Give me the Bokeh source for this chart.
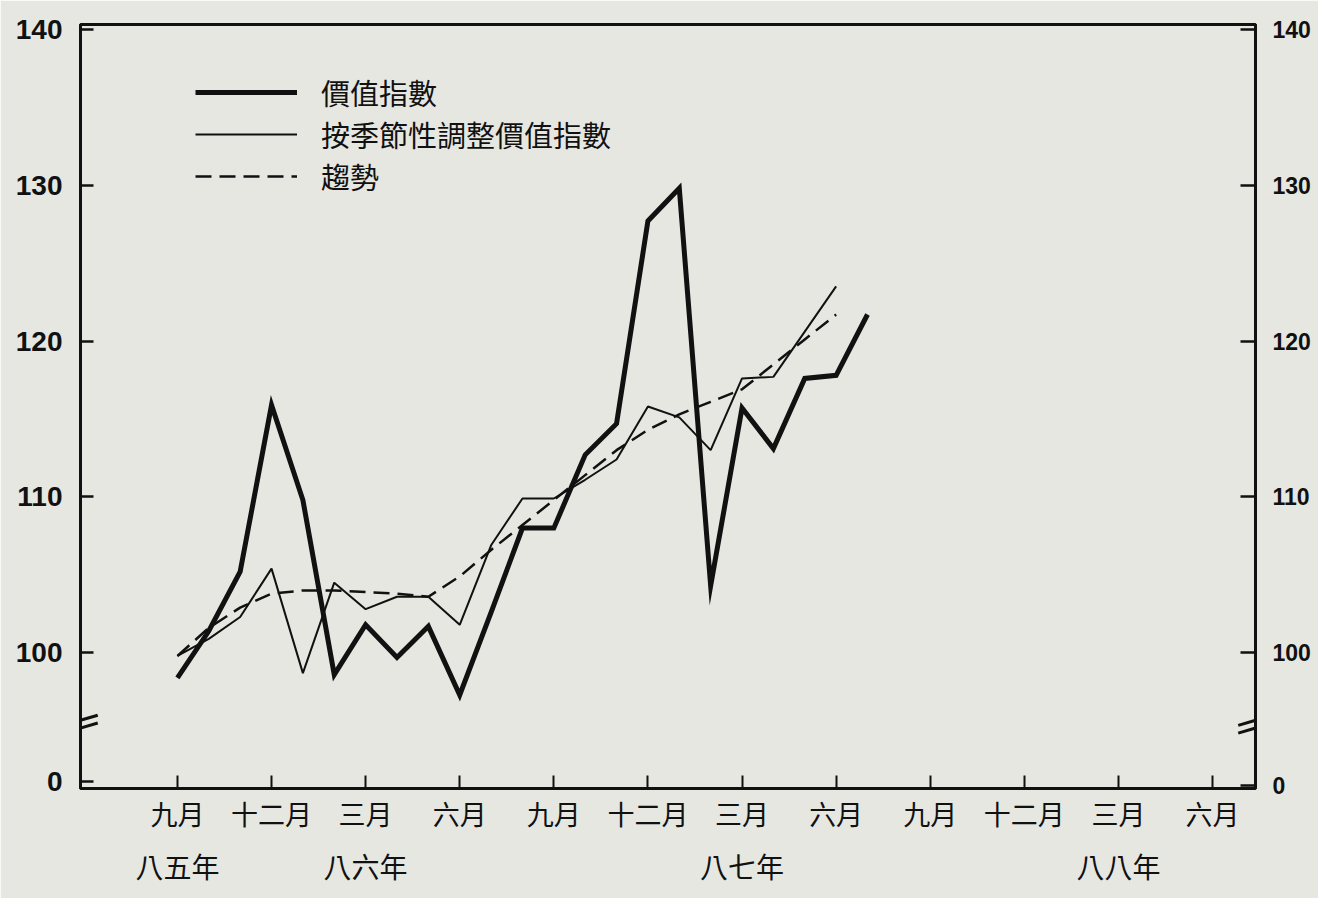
from bokeh.plotting import figure
from bokeh.models import FixedTicker, LinearAxis, Range1d, Legend, LegendItem, Arrow
from bokeh.embed import file_html
from bokeh.resources import INLINE

# Months counted from 九月 1985 (index 0)
MONTHS_VALUE = list(range(23))
VALUE_INDEX = [98.4, 101.4, 105.2, 115.9, 109.8, 98.6, 101.8, 99.7, 101.7, 97.3, 102.6,
               108.0, 108.0, 112.7, 114.7, 127.7, 129.8, 104.3, 115.7, 113.1, 117.6, 117.8, 121.7]
MONTHS_SA = list(range(22))
SEASONAL_ADJ = [99.8, 100.9, 102.3, 105.4, 98.7, 104.5, 102.8, 103.6, 103.6, 101.8, 106.9,
                109.9, 109.9, 111.1, 112.4, 115.8, 115.1, 113.0, 117.6, 117.7, 120.6, 123.5]
TREND = [99.8, 101.6, 102.9, 103.8, 104.0, 104.0, 103.9, 103.8, 103.6, 104.9, 106.6,
         108.2, 109.8, 111.4, 113.0, 114.3, 115.3, 116.1, 116.9, 118.5, 120.1, 121.7]

SERIES_NAMES = ["價值指數", "按季節性調整價值指數", "趨勢"]

MONTH_TICKS = [0, 3, 6, 9, 12, 15, 18, 21, 24, 27, 30, 33]
MONTH_LABELS = ["九月", "十二月", "三月", "六月", "九月", "十二月", "三月", "六月",
                "九月", "十二月", "三月", "六月"]
YEAR_TICKS = [0, 6, 18, 30]
YEAR_LABELS = ["八五年", "八六年", "八七年", "八八年"]

Y_TICKS = [100, 110, 120, 130, 140]
Y_BOTTOM = 91.3          # broken axis: bottom of the frame stands for 0
Y_ZERO_LABEL = Y_BOTTOM + 0.45
Y_BREAK = 95.2
X_LEFT, X_RIGHT = -3.09, 34.37

PAPER = "#e6e7e1"
INK = "#111111"
CJK = "Noto Sans CJK TC"

p = figure(width=1318, height=898, output_backend="svg", toolbar_location=None,
           x_range=Range1d(X_LEFT, X_RIGHT), y_range=Range1d(Y_BOTTOM, 140.3),
           min_border_left=80, min_border_right=63, min_border_top=24, min_border_bottom=110)
p.background_fill_color = PAPER
p.border_fill_color = PAPER
p.outline_line_color = INK
p.outline_line_width = 3
p.grid.visible = False

# left axis
ly = p.yaxis[0]
ly.ticker = FixedTicker(ticks=[Y_ZERO_LABEL] + Y_TICKS)
ly.major_label_overrides = {Y_ZERO_LABEL: "0"}
ly.major_tick_in = 13
ly.major_tick_out = 0
ly.minor_tick_line_color = None
ly.axis_line_width = 3
ly.major_tick_line_width = 2.5
ly.axis_line_color = INK
ly.major_tick_line_color = INK
ly.major_label_standoff = 18
ly.major_label_text_font = "Liberation Sans"
ly.major_label_text_font_style = "bold"
ly.major_label_text_font_size = "28px"
ly.major_label_text_color = INK

# right axis
ry = LinearAxis(ticker=FixedTicker(ticks=[Y_BOTTOM + 0.2] + Y_TICKS),
                major_label_overrides={Y_BOTTOM + 0.2: "0"})
ry.major_tick_in = 15
ry.major_tick_out = 0
ry.minor_tick_line_color = None
ry.axis_line_width = 3
ry.major_tick_line_width = 2.5
ry.axis_line_color = INK
ry.major_tick_line_color = INK
ry.major_label_standoff = 17
ry.major_label_text_font = "Liberation Sans"
ry.major_label_text_font_style = "bold"
ry.major_label_text_font_size = "23px"
ry.major_label_text_color = INK
p.add_layout(ry, "right")

# bottom axis (months)
bx = p.xaxis[0]
bx.ticker = FixedTicker(ticks=MONTH_TICKS)
bx.major_label_overrides = {t: l for t, l in zip(MONTH_TICKS, MONTH_LABELS)}
bx.major_tick_in = 13
bx.major_tick_out = 0
bx.minor_tick_line_color = None
bx.axis_line_width = 3
bx.major_tick_line_width = 2
bx.axis_line_color = INK
bx.major_tick_line_color = INK
bx.major_label_standoff = 5
bx.major_label_text_font = CJK
bx.major_label_text_font_size = "27px"
bx.major_label_text_color = INK

# second row (years)
yx = LinearAxis(ticker=FixedTicker(ticks=YEAR_TICKS),
                major_label_overrides={t: l for t, l in zip(YEAR_TICKS, YEAR_LABELS)})
yx.axis_line_color = None
yx.major_tick_line_color = None
yx.minor_tick_line_color = None
yx.major_tick_in = 0
yx.major_tick_out = 0
yx.major_label_standoff = 10
yx.major_label_text_font = CJK
yx.major_label_text_font_size = "28px"
yx.major_label_text_color = INK
p.add_layout(yx, "below")

# series
r1 = p.line(MONTHS_VALUE, VALUE_INDEX, line_color=INK, line_width=5, line_join="miter")
r2 = p.line(MONTHS_SA, SEASONAL_ADJ, line_color=INK, line_width=2)
r3 = p.line(MONTHS_SA, TREND, line_color=INK, line_width=2.5, line_dash="16 8")

legend = Legend(items=[LegendItem(label=SERIES_NAMES[0], renderers=[r1]),
                       LegendItem(label=SERIES_NAMES[1], renderers=[r2]),
                       LegendItem(label=SERIES_NAMES[2], renderers=[r3])],
                location=(115, 591))
legend.glyph_width = 102
legend.glyph_height = 30
legend.label_height = 30
legend.spacing = -4
legend.label_standoff = 24
legend.padding = 0
legend.margin = 0
legend.border_line_color = None
legend.background_fill_alpha = 0
legend.label_text_font = CJK
legend.label_text_font_size = "29px"
legend.label_text_color = INK
p.add_layout(legend)

# axis-break marks
for xa in (X_LEFT, X_RIGHT):
    for dy in (0.0, 0.5):
        p.add_layout(Arrow(end=None, x_start=xa - 0.55, y_start=Y_BREAK - 0.35 + dy,
                           x_end=xa + 0.55, y_end=Y_BREAK + 0.3 + dy,
                           line_color=INK, line_width=3))

open("out.html", "w").write(file_html(p, INLINE))
